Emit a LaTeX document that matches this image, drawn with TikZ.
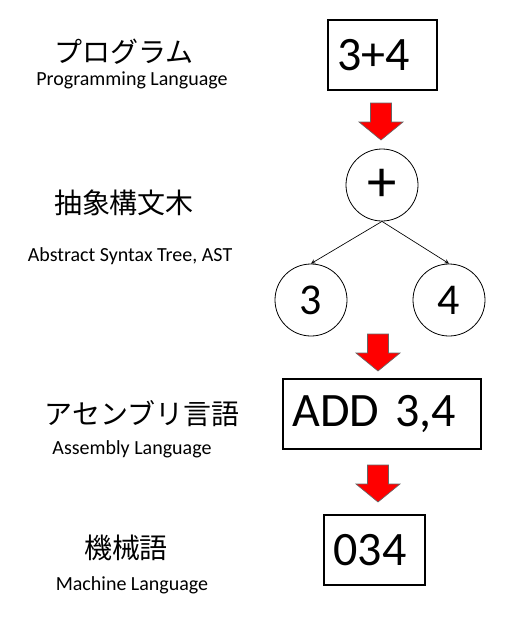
\documentclass[tikz,border=0pt]{standalone}
\usepackage{fontspec}
\setmainfont{Carlito}
\newfontfamily\jpfont{Noto Sans CJK JP}
\usetikzlibrary{arrows}
\tikzset{
	jlabel/.style={font=\jpfont\fontsize{21}{24}\selectfont},
	elabel/.style={font=\fontsize{15}{18}\selectfont},
	codebox/.style={draw, line width=0.8pt, align=left, inner xsep=7pt, minimum height=52.5pt, font=\fontsize{36}{40}\selectfont},
	treenode/.style={circle, draw, line width=0.6pt, minimum size=54pt, inner sep=0pt, font=\fontsize{33}{36}\selectfont},
	redarrow/.pic={\filldraw[fill=red, draw=black!60, line width=0.5pt] (-10.5,0) -- (10.5,0) -- (10.5,19) -- (22,19) -- (0,37) -- (-22,19) -- (-10.5,19) -- cycle;}
}
\begin{document}
\begin{tikzpicture}[x=0.75pt,y=-0.75pt]
		\useasboundingbox (0,0) rectangle (530,618);
		\node[jlabel] (progJ) at (124,52) {プログラム};
		\node[elabel] (progE) at (132,80) {Programming Language};
		\node[jlabel] (astJ) at (124,203) {抽象構文木};
		\node[elabel] (astE) at (130,256) {Abstract Syntax Tree, AST};
		\node[jlabel] (asmJ) at (142,414) {アセンブリ言語};
		\node[elabel] (asmE) at (132,449) {Assembly Language};
		\node[jlabel] (macJ) at (126,548) {機械語};
		\node[elabel] (macE) at (132,585) {Machine Language};
		\node[codebox, text width=67.75pt] (src) at (382.5,55) {3+4};
		\node[treenode, font=\fontsize{44}{48}\selectfont] (plus) at (382,185) {+};
		\node[treenode] (three) at (311,300) {3};
		\node[treenode] (four) at (449,300) {4};
		\node[codebox, text width=134.5pt] (asm) at (382,414) {ADD 3,4};
		\node[codebox, text width=61.75pt] (mach) at (374.5,550) {034};
		\path[-stealth, line width=0.5pt]
		(plus.south) edge (three.north)
		edge (four.north);
		\pic at (381,103) {redarrow};
		\pic at (378,334) {redarrow};
		\pic at (378,465) {redarrow};
\end{tikzpicture}
\end{document}
